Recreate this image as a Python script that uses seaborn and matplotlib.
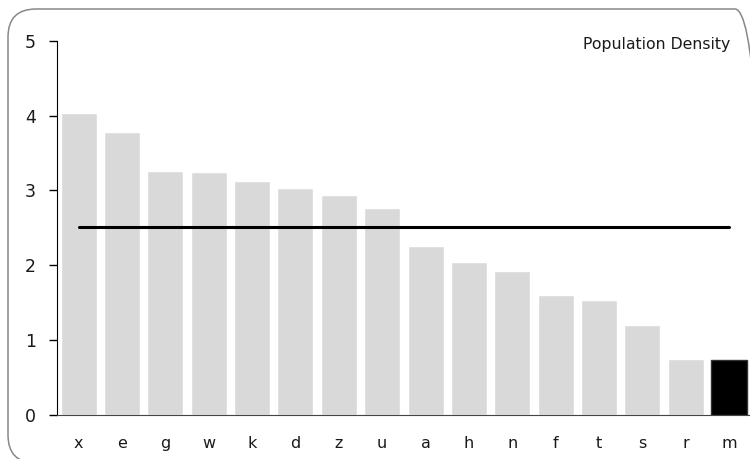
import numpy as np
import pandas as pd
import matplotlib
matplotlib.use("Agg")
import matplotlib.pyplot as plt
from matplotlib.patches import FancyBboxPatch
from matplotlib.transforms import IdentityTransform
import seaborn as sns

# values
regions = ["x", "e", "g", "w", "k", "d", "z", "u", "a", "h", "n", "f", "t", "s", "r", "m"]
density = [4.04, 3.78, 3.26, 3.25, 3.13, 3.03, 2.94, 2.77, 2.26, 2.05, 1.93, 1.60, 1.54, 1.20, 0.75, 0.74]
ref_line = [2.51] * len(regions)
highlight = "m"

sns.set_style("white")
plt.rcParams["font.family"] = ["DejaVu Sans"]

df = pd.DataFrame({"region": regions, "density": density})
bar_colors = ["#000000" if r == highlight else "#d9d9d9" for r in regions]

fig = plt.figure(figsize=(7.5, 4.59), dpi=100)
ax = fig.add_axes([0.076, 0.096, 0.925, 0.815])

sns.barplot(data=df, x="region", y="density", hue="region", palette=bar_colors,
            legend=False, width=0.83, saturation=1, ax=ax)
# dark outline on highlighted bar
for patch, r in zip(ax.patches, regions):
    if r == highlight:
        patch.set_edgecolor("#333333")
        patch.set_linewidth(1)

ax.plot(np.arange(len(regions)), ref_line, color="black", lw=2.2, zorder=5)

ax.set_xlim(-0.5, len(regions) - 0.5)
ax.set_ylim(0, 5)
ax.set_yticks([0, 1, 2, 3, 4, 5])
ax.set_xlabel("")
ax.set_ylabel("")
sns.despine(ax=ax, top=True, right=True)
ax.spines["left"].set_color("black")
ax.spines["bottom"].set_color("#444444")
ax.tick_params(axis="y", length=6, width=1, pad=9, labelsize=12.5, left=True, colors="black")
ax.tick_params(axis="x", length=0, pad=15, labelsize=11.5, colors="black")
for lab in ax.get_xticklabels() + ax.get_yticklabels():
    lab.set_color("#1a1a1a")

ax.text(0.970, 0.979, "Population Density", transform=ax.transAxes,
        ha="right", va="baseline", fontsize=11.3, color="#1a1a1a")

# rounded frame around the whole chart (pixel coords)
frame = FancyBboxPatch((8, -4), 755, 454, boxstyle="round,pad=0,rounding_size=28",
                       transform=IdentityTransform(), fill=False,
                       edgecolor="#888888", lw=1.1)
fig.add_artist(frame)

fig.savefig("out.png", dpi=100)
